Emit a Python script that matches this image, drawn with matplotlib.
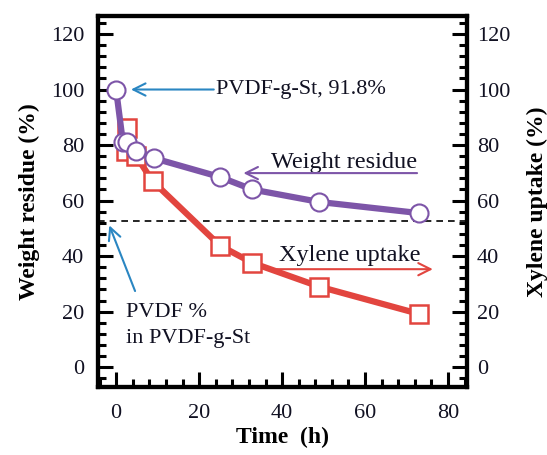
import matplotlib
matplotlib.use("Agg")
import matplotlib.pyplot as plt
from matplotlib.ticker import MultipleLocator

plt.rcParams['font.family'] = ['Liberation Serif', 'DejaVu Serif']

# Data
wr_time = [0, 1.6, 2.7, 4.9, 9.0, 25.0, 32.8, 49.0, 73.0]
wr_value = [99.8, 81.2, 81.0, 78.0, 75.3, 68.5, 64.0, 59.5, 55.5]
xu_time = [2.7, 2.3, 4.8, 8.8, 25.0, 32.8, 49.0, 73.0]
xu_value = [86.0, 77.8, 76.0, 67.0, 43.8, 37.6, 29.0, 19.2]
pvdf_pct = 52.6

x_ticks = [0, 20, 40, 60, 80]
y_ticks = [0, 20, 40, 60, 80, 100, 120]

purple = '#7d55a8'
red = '#e2453f'
blue = '#2a86c2'
txt = '#111122'

fig = plt.figure(figsize=(5.47, 4.55), dpi=100)
ax = fig.add_axes([0.179, 0.149, 0.675, 0.816])

ax.axhline(pvdf_pct, color='black', lw=1.2, ls=(0, (4, 3)), zorder=1)

ax.plot(xu_time, xu_value, color=red, lw=4.5, marker='s', ms=13,
        mfc='white', mec=red, mew=1.8, zorder=2)
ax.plot(wr_time, wr_value, color=purple, lw=4.5, marker='o', ms=13,
        mfc='white', mec=purple, mew=1.5, zorder=3)

ax.set_xlim(-4.4, 84.6)
ax.set_ylim(-7.2, 126.5)

ax.set_xticks(x_ticks)
ax.set_yticks(y_ticks)
ax.xaxis.set_minor_locator(MultipleLocator(4))
ax.yaxis.set_minor_locator(MultipleLocator(4))

for s in ax.spines.values():
    s.set_linewidth(3)

ax.tick_params(axis='x', which='major', direction='in', length=11, width=2.2,
               labelsize=16, pad=12, colors='black', labelcolor=txt, top=False)
ax.tick_params(axis='x', which='minor', direction='in', length=6, width=2.2, top=False)
ax.tick_params(axis='y', which='major', direction='in', length=11, width=2.2,
               labelsize=16, pad=10, labelcolor=txt, left=True, right=True)
ax.tick_params(axis='y', which='minor', direction='in', length=6, width=2.2,
               left=True, right=True)

ax2 = ax.twinx()
ax2.set_ylim(ax.get_ylim())
ax2.set_yticks(y_ticks)
ax2.yaxis.set_minor_locator(MultipleLocator(4))
ax2.tick_params(axis='y', which='major', direction='in', length=11, width=2.2,
                labelsize=16, pad=7, labelcolor=txt)
ax2.tick_params(axis='y', which='minor', direction='in', length=6, width=2.2)
for s in ax2.spines.values():
    s.set_linewidth(3)

ax.set_xlabel('Time  (h)', fontsize=17, fontweight='bold', labelpad=3)
ax.set_ylabel('Weight residue (%)', fontsize=17, fontweight='bold', labelpad=8)
ax2.set_ylabel('Xylene uptake (%)', fontsize=17, fontweight='bold', labelpad=12)

# Annotations
ax.annotate('', xy=(2.9, 100.0), xytext=(24.2, 100.0),
            arrowprops=dict(arrowstyle='->', color=blue, lw=1.5, mutation_scale=22))
ax.text(24.0, 100.0, 'PVDF-g-St, 91.8%', fontsize=16, color=txt, va='center', ha='left')

ax.text(37.3, 73.8, 'Weight residue', fontsize=17.5, color=txt, va='center', ha='left')
ax.annotate('', xy=(30.0, 69.9), xytext=(73.2, 69.9),
            arrowprops=dict(arrowstyle='->', color=purple, lw=1.5, mutation_scale=22))

ax.text(39.3, 40.4, 'Xylene uptake', fontsize=17.5, color=txt, va='center', ha='left')
ax.annotate('', xy=(77.0, 35.3), xytext=(38.0, 35.3),
            arrowprops=dict(arrowstyle='->', color=red, lw=1.5, mutation_scale=22))

ax.annotate('', xy=(-1.9, 52.0), xytext=(4.8, 26.5),
            arrowprops=dict(arrowstyle='->', color=blue, lw=1.5, mutation_scale=22))
ax.text(2.4, 19.8, 'PVDF %', fontsize=16, color=txt, va='center', ha='left')
ax.text(2.4, 10.3, 'in PVDF-g-St', fontsize=16, color=txt, va='center', ha='left')

fig.savefig('out.png', dpi=100)
